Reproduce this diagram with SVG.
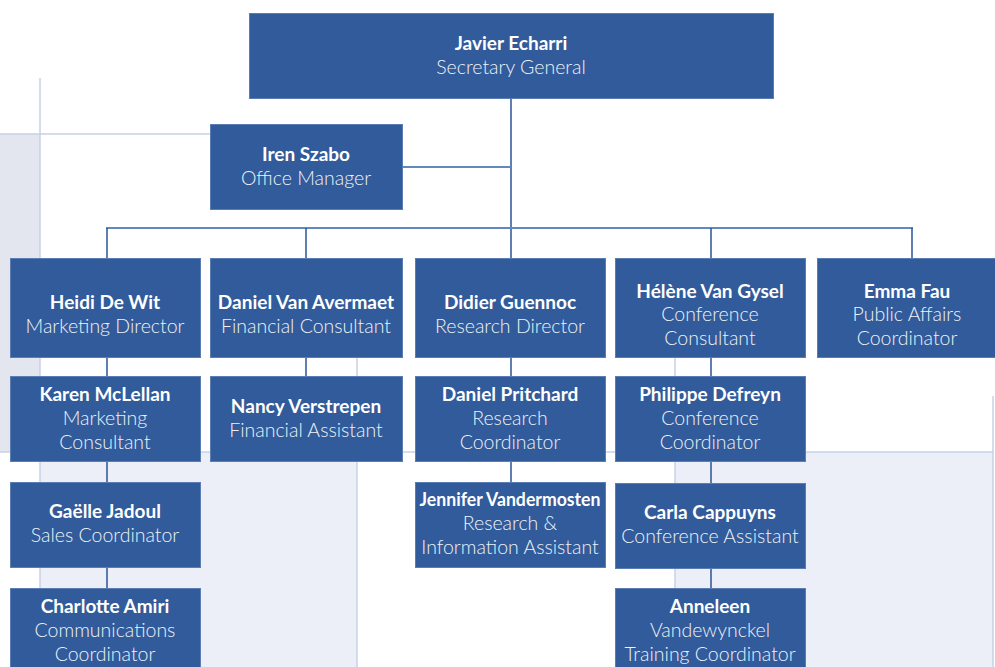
<svg xmlns="http://www.w3.org/2000/svg" width="995" height="667" viewBox="0 0 995 667">
<style>
.bgl{stroke:#c9d0e6;stroke-width:1.5;fill:none}
.box{fill:#315b9a;stroke:#5a7db3;stroke-width:1}
text{font-family:Lato,"Open Sans","Liberation Sans",sans-serif;font-size:19.5px;fill:#ffffff;text-anchor:middle}
.n{font-weight:bold;font-size:19px}
.t{fill:#eef2f8;font-weight:300}
.cv{stroke:#2a5597;stroke-width:1.5;fill:none}
.ch{stroke:#6487bd;stroke-width:2;fill:none}
</style>
<rect width="995" height="667" fill="#ffffff"/>
<g id="background">
<rect x="0" y="134" width="40" height="318" fill="#e3e5ef"/>
<rect x="40" y="452" width="317" height="215" fill="#eceff7"/>
<rect x="675" y="452" width="318" height="215" fill="#eceff7"/>
<line class="bgl" x1="40" y1="78" x2="40" y2="667"/>
<line class="bgl" x1="0" y1="134" x2="215" y2="134"/>
<line class="bgl" x1="0" y1="452" x2="993" y2="452"/>
<line class="bgl" x1="357" y1="357" x2="357" y2="667"/>
<line class="bgl" x1="675" y1="357" x2="675" y2="667"/>
<line class="bgl" x1="993" y1="396" x2="993" y2="667"/>
</g>
<g id="connectors">
<line class="cv" x1="511" y1="98" x2="511" y2="258"/>
<line class="ch" x1="402" y1="167" x2="511" y2="167"/>
<line class="ch" x1="106" y1="228" x2="913" y2="228"/>
<line class="cv" x1="107" y1="228" x2="107" y2="258"/>
<line class="cv" x1="306" y1="228" x2="306" y2="258"/>
<line class="cv" x1="711" y1="228" x2="711" y2="258"/>
<line class="cv" x1="912" y1="228" x2="912" y2="258"/>
<line class="cv" x1="107" y1="357" x2="107" y2="376"/>
<line class="cv" x1="107" y1="461" x2="107" y2="482"/>
<line class="cv" x1="107" y1="567" x2="107" y2="588"/>
<line class="cv" x1="306" y1="357" x2="306" y2="376"/>
<line class="cv" x1="511" y1="357" x2="511" y2="376"/>
<line class="cv" x1="511" y1="461" x2="511" y2="482"/>
<line class="cv" x1="711" y1="357" x2="711" y2="376"/>
<line class="cv" x1="711" y1="461" x2="711" y2="483"/>
<line class="cv" x1="711" y1="568" x2="711" y2="588"/>
</g>
<g id="javier"><rect class="box" x="249.5" y="13.5" width="524" height="85"/><text class="n" x="511" y="50">Javier Echarri</text><text class="t" x="511" y="74">Secretary General</text></g>
<g id="iren"><rect class="box" x="210.5" y="124.5" width="192" height="85"/><text class="n" x="306" y="161">Iren Szabo</text><text class="t" x="306" y="185">Office Manager</text></g>
<g id="heidi"><rect class="box" x="10.5" y="258.5" width="190" height="99"/><text class="n" x="105" y="309">Heidi De Wit</text><text class="t" x="105" y="333">Marketing Director</text></g>
<g id="daniel-va"><rect class="box" x="210.5" y="258.5" width="192" height="99"/><text class="n" x="306" y="309">Daniel Van Avermaet</text><text class="t" x="306" y="333">Financial Consultant</text></g>
<g id="didier"><rect class="box" x="415.5" y="258.5" width="190" height="99"/><text class="n" x="510" y="309">Didier Guennoc</text><text class="t" x="510" y="333">Research Director</text></g>
<g id="helene"><rect class="box" x="615.5" y="258.5" width="190" height="99"/><text class="n" x="710" y="298">Hélène Van Gysel</text><text class="t" x="710" y="321">Conference</text><text class="t" x="710" y="345">Consultant</text></g>
<g id="emma"><rect class="box" x="817.5" y="258.5" width="180" height="99"/><text class="n" x="907" y="298">Emma Fau</text><text class="t" x="907" y="321">Public Affairs</text><text class="t" x="907" y="345">Coordinator</text></g>
<g id="karen"><rect class="box" x="10.5" y="376.5" width="190" height="85"/><text class="n" x="105" y="401">Karen McLellan</text><text class="t" x="105" y="425">Marketing</text><text class="t" x="105" y="449">Consultant</text></g>
<g id="nancy"><rect class="box" x="210.5" y="376.5" width="192" height="85"/><text class="n" x="306" y="413">Nancy Verstrepen</text><text class="t" x="306" y="437">Financial Assistant</text></g>
<g id="daniel-p"><rect class="box" x="415.5" y="376.5" width="190" height="85"/><text class="n" x="510" y="401">Daniel Pritchard</text><text class="t" x="510" y="425">Research</text><text class="t" x="510" y="449">Coordinator</text></g>
<g id="philippe"><rect class="box" x="615.5" y="376.5" width="190" height="85"/><text class="n" x="710" y="401">Philippe Defreyn</text><text class="t" x="710" y="425">Conference</text><text class="t" x="710" y="449">Coordinator</text></g>
<g id="gaelle"><rect class="box" x="10.5" y="482.5" width="190" height="85"/><text class="n" x="105" y="518">Gaëlle Jadoul</text><text class="t" x="105" y="542">Sales Coordinator</text></g>
<g id="jennifer"><rect class="box" x="415.5" y="482.5" width="190" height="85"/><text class="n" x="510" y="506" textLength="181" lengthAdjust="spacingAndGlyphs">Jennifer Vandermosten</text><text class="t" x="510" y="530">Research &amp;</text><text class="t" x="510" y="554">Information Assistant</text></g>
<g id="carla"><rect class="box" x="615.5" y="483.5" width="190" height="85"/><text class="n" x="710" y="519">Carla Cappuyns</text><text class="t" x="710" y="543">Conference Assistant</text></g>
<g id="charlotte"><rect class="box" x="10.5" y="588.5" width="190" height="90"/><text class="n" x="105" y="613">Charlotte Amiri</text><text class="t" x="105" y="637">Communications</text><text class="t" x="105" y="661">Coordinator</text></g>
<g id="anneleen"><rect class="box" x="615.5" y="588.5" width="190" height="90"/><text class="n" x="710" y="613">Anneleen</text><text class="t" x="710" y="637">Vandewynckel</text><text class="t" x="710" y="661">Training Coordinator</text></g>
</svg>
